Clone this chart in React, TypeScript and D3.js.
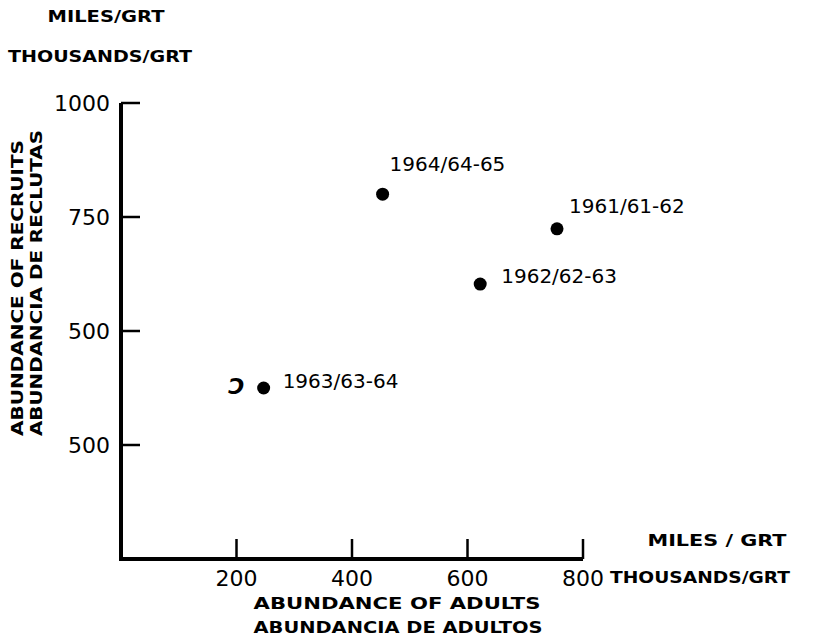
import React, { useEffect, useRef } from 'react';
import * as d3 from 'd3';

// data
const years = ['1964/64-65', '1961/61-62', '1962/62-63', '1963/63-64'];
const adults = [453, 755, 622, 247];
const recruits = [800, 724, 603, 375];
const xTicks = [200, 400, 600, 800];
const yTicks = [1000, 750, 500, 250];
const yTickLabels = ['1000', '750', '500', '500'];

const W = 820;
const H = 640;

export default function App() {
  const ref = useRef<SVGSVGElement>(null);

  useEffect(() => {
    const svg = d3.select(ref.current);
    svg.selectAll('*').remove();

    const x = d3.scaleLinear().domain([0, 800]).range([121, 583]);
    const y = d3.scaleLinear().domain([0, 1000]).range([559, 103]);
    const font = 'DejaVu Sans, Verdana, sans-serif';

    // axes
    svg.append('path')
      .attr('d', `M${x(0)},${y(1000)}V${y(0)}H${x(800)}`)
      .attr('fill', 'none')
      .attr('stroke', '#000')
      .attr('stroke-width', 4);

    svg.selectAll('.ytick')
      .data(yTicks)
      .enter().append('line')
      .attr('class', 'ytick')
      .attr('x1', x(0)).attr('x2', x(0) + 19)
      .attr('y1', d => y(d)).attr('y2', d => y(d))
      .attr('stroke', '#000').attr('stroke-width', 2.5);

    svg.selectAll('.ylab')
      .data(yTicks)
      .enter().append('text')
      .attr('class', 'ylab')
      .attr('x', x(0) - 11)
      .attr('y', d => y(d))
      .attr('dy', '0.36em')
      .attr('text-anchor', 'end')
      .attr('font-family', font)
      .attr('font-size', 22)
      .text((d, i) => yTickLabels[i]);

    svg.selectAll('.xtick')
      .data(xTicks)
      .enter().append('line')
      .attr('class', 'xtick')
      .attr('x1', d => x(d)).attr('x2', d => x(d))
      .attr('y1', y(0)).attr('y2', y(0) - 20)
      .attr('stroke', '#000').attr('stroke-width', 2.5);

    svg.selectAll('.xlab')
      .data(xTicks)
      .enter().append('text')
      .attr('class', 'xlab')
      .attr('x', d => x(d))
      .attr('y', 578)
      .attr('dy', '0.36em')
      .attr('text-anchor', 'middle')
      .attr('font-family', font)
      .attr('font-size', 22)
      .text(d => d);

    // points + labels
    const pts = years.map((t, i) => ({ t, a: adults[i], r: recruits[i] }));
    svg.selectAll('.dot')
      .data(pts)
      .enter().append('circle')
      .attr('class', 'dot')
      .attr('cx', d => x(d.a))
      .attr('cy', d => y(d.r))
      .attr('r', 6.5)
      .attr('fill', '#000');

    const off: Record<string, [number, number]> = {
      '1964/64-65': [7, -30],
      '1961/61-62': [12, -23],
      '1962/62-63': [21, -8],
      '1963/63-64': [19, -7],
    };
    svg.selectAll('.plab')
      .data(pts)
      .enter().append('text')
      .attr('class', 'plab')
      .attr('x', d => x(d.a) + off[d.t][0])
      .attr('y', d => y(d.r) + off[d.t][1])
      .attr('dy', '0.36em')
      .attr('font-family', font)
      .attr('font-size', 20)
      .text(d => d.t);

    // stray mark next to the 1963 point
    svg.append('text')
      .attr('x', x(200))
      .attr('y', y(380))
      .attr('dy', '0.36em')
      .attr('text-anchor', 'middle')
      .attr('font-family', font)
      .attr('font-size', 22)
      .attr('font-weight', 'bold')
      .attr('font-style', 'italic')
      .text('Ↄ');

    // wide, bold lettering of the original: fit each title to its width
    const title = (tx: number, ty: number, s: string, size: number, len: number, rot = 0) =>
      svg.append('text')
        .attr('transform', `translate(${tx},${ty}) rotate(${rot})`)
        .attr('dy', '0.36em')
        .attr('text-anchor', 'middle')
        .attr('font-family', font)
        .attr('font-weight', 'bold')
        .attr('font-size', size)
        .attr('textLength', len)
        .attr('lengthAdjust', 'spacingAndGlyphs')
        .text(s);

    // y units
    title(106, 17, 'MILES/GRT', 15, 117);
    title(100, 57, 'THOUSANDS/GRT', 15, 184);
    // y title (rotated)
    title(17, 288, 'ABUNDANCE OF RECRUITS', 16, 296, -90);
    title(36, 283, 'ABUNDANCIA DE RECLUTAS', 16, 306, -90);
    // x title
    title(397, 603, 'ABUNDANCE OF ADULTS', 16.5, 287);
    title(398, 627, 'ABUNDANCIA DE ADULTOS', 16.5, 289);
    // x units
    title(717, 541, 'MILES / GRT', 15, 139);
    title(700, 578, 'THOUSANDS/GRT', 15, 180);
  }, []);

  return (
    <svg
      ref={ref}
      width={W}
      height={H}
      style={{ position: 'absolute', left: 0, top: 0, background: '#fff' }}
    />
  );
}
